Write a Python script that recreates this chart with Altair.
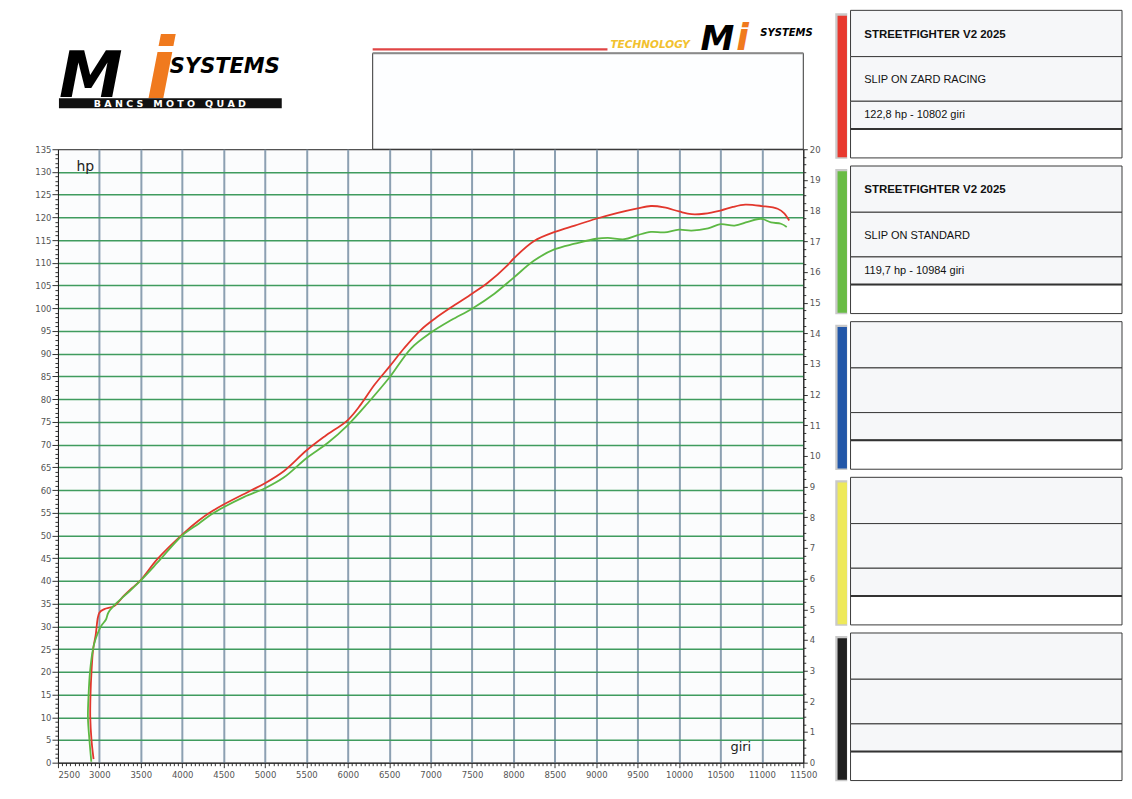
import altair as alt
import pandas as pd

# ---------------- data ----------------
series = ["SLIP ON ZARD RACING", "SLIP ON STANDARD"]
line_colors = ["#e2372d", "#5db844"]

red_rpm = [2930, 2905, 2890, 2893, 2905, 2925, 2955, 3000, 3060, 3180,
           3300, 3400, 3500, 3700, 4000, 4200, 4350, 4500, 4830, 5000,
           5230, 5500, 5720, 6000, 6160, 6320, 6500, 6680, 6880, 7050,
           7290, 7500, 7690, 7930, 8000, 8250, 8500, 8740, 9000, 9260,
           9500, 9660, 9820, 10000, 10150, 10300, 10500, 10650, 10800, 11000,
           11190, 11270, 11330]
red_hp = [0.8, 5, 10, 15, 20, 25, 28, 33, 33.8, 34.5,
          36.8, 38.5, 40.2, 44.8, 50.2, 53.3, 55.2, 56.8, 59.9, 61.5,
          64.2, 68.7, 71.8, 75.4, 78.9, 83.1, 87.1, 91.2, 95.2, 97.7,
          100.7, 103.2, 105.6, 109.5, 110.9, 114.8, 116.8, 118.2, 119.7, 121,
          122, 122.5, 122.2, 121.3, 120.7, 120.8, 121.5, 122.3, 122.8, 122.5,
          121.9, 120.9, 119.3]

green_rpm = [2903, 2880, 2862, 2870, 2887, 2923, 2951, 3019, 3080, 3108,
             3200, 3350, 3494, 3700, 4000, 4200, 4350, 4500, 4750, 5000,
             5230, 5500, 5760, 6000, 6240, 6500, 6765, 7000, 7250, 7500,
             7770, 8000, 8250, 8500, 8740, 9000, 9140, 9340, 9500, 9660,
             9820, 10000, 10150, 10350, 10500, 10670, 10830, 10990, 11110, 11230,
             11300]
green_hp = [0.2, 5, 10, 15, 20, 25, 27, 30, 31.5, 33,
            35, 37.5, 40, 44, 50, 52.6, 54.6, 56.2, 58.5, 60.4,
            62.8, 67, 70.4, 74.3, 79.1, 84.7, 91.2, 94.6, 97.4, 99.9,
            103.2, 106.7, 110.5, 113, 114.2, 115.3, 115.5, 115.2, 116.1, 116.8,
            116.7, 117.3, 117.1, 117.6, 118.5, 118.2, 119, 119.7, 118.9, 118.6,
            117.9]

x_domain = [2500, 11500]
hp_domain = [0, 135]
right_domain = [0, 20]

panel_colors = ["#e8392f", "#69bc45", "#2357a8", "#eee95a", "#1f1f1f"]
panel_titles = ["STREETFIGHTER V2 2025", "STREETFIGHTER V2 2025", "", "", ""]
panel_subtitles = ["SLIP ON ZARD RACING", "SLIP ON STANDARD", "", "", ""]
panel_max = ["122,8 hp - 10802 giri", "119,7 hp - 10984 giri", "", "", ""]

FONT = "DejaVu Sans"
LFONT = "Liberation Sans"
NB = "\u00a0"

# ---------------- main plot ----------------
rows = []
for name, xs, ys in [(series[0], red_rpm, red_hp), (series[1], green_rpm, green_hp)]:
    for i, (x, y) in enumerate(zip(xs, ys)):
        rows.append({"series": name, "rpm": x, "hp": y, "idx": i})
curves = pd.DataFrame(rows)

x_vals = list(range(2500, 11501, 50))
y_vals = list(range(0, 136))
r_vals = [i * 0.25 for i in range(81)]

x_axis = alt.Axis(
    values=x_vals,
    labelExpr="datum.value % 500 === 0 ? format(datum.value, 'd') : ''",
    labelOverlap=False, labelFlush=False,
    labelAlign={"condition": {"test": "datum.value === 2500", "value": "left"}, "value": "center"},
    tickSize={"condition": {"test": "datum.value % 500 === 0", "value": 5}, "value": 3},
    grid=True, gridColor="#8ca0b2", gridWidth=2,
    gridOpacity={"condition": {"test": "datum.value % 500 === 0 && datum.value > 2500 && datum.value < 11500", "value": 1}, "value": 0},
    domainColor="#222", tickColor="#333", labelColor="#555", labelFont=FONT,
    labelFontSize=8.5, labelPadding=3,
    title="giri", titleX=683, titleY=-12, titleAlign="center", titleBaseline="alphabetic",
    titleFont=FONT, titleFontSize=13, titleFontWeight="normal", titleColor="#222",
)
y_axis = alt.Axis(
    values=y_vals, orient="left",
    labelExpr="datum.value % 5 === 0 ? format(datum.value, 'd') : ''",
    labelOverlap=False, labelFlush=False,
    tickSize={"condition": {"test": "datum.value % 5 === 0", "value": 6}, "value": 3},
    grid=True, gridColor="#3f9b5e", gridWidth=1.5,
    gridOpacity={"condition": {"test": "datum.value % 5 === 0 && datum.value > 0 && datum.value < 135", "value": 1}, "value": 0},
    domainColor="#222", tickColor="#333", labelColor="#555", labelFont=FONT,
    labelFontSize=8.5, labelPadding=1,
    title="hp", titleAngle=0, titleX=18, titleY=21, titleAlign="left", titleBaseline="alphabetic",
    titleFont=FONT, titleFontSize=14, titleFontWeight="normal", titleColor="#222",
)
r_axis = alt.Axis(
    values=r_vals, orient="right",
    labelExpr="datum.value % 1 === 0 ? format(datum.value, 'd') : ''",
    labelOverlap=False, labelFlush=False,
    tickSize={"condition": {"test": "datum.value % 1 === 0", "value": 4}, "value": 2.5},
    grid=False, domainColor="#222", tickColor="#333", labelColor="#555", labelFont=FONT,
    labelFontSize=8.5, labelPadding=2, title=None,
)

lines = alt.Chart(curves).mark_line(strokeWidth=1.8, interpolate="catmull-rom").encode(
    x=alt.X("rpm:Q", scale=alt.Scale(domain=x_domain, nice=False, zero=False), axis=x_axis),
    y=alt.Y("hp:Q", scale=alt.Scale(domain=hp_domain, nice=False), axis=y_axis),
    color=alt.Color("series:N", scale=alt.Scale(domain=series, range=line_colors), legend=None),
    order=alt.Order("idx:Q"),
)
right = alt.Chart(pd.DataFrame({"v": right_domain})).mark_point(opacity=0).encode(
    y=alt.Y("v:Q", scale=alt.Scale(domain=right_domain, nice=False), axis=r_axis),
)
main = alt.layer(lines, right).resolve_scale(y="independent").properties(
    width=746, height=614,
    view=alt.ViewBackground(fill="#fbfcfd", stroke="#222", strokeWidth=1),
)

# ---------------- header (logos + empty box) ----------------
one = alt.Data(values=[{"k": 1}])


def txt(t, x, y, size, color="#000", weight="bold", style="italic", align="left", baseline="alphabetic", font=FONT):
    return alt.Chart(one).mark_text(text=t, font=font, fontSize=size, fontWeight=weight,
                                    fontStyle=style, color=color, align=align, baseline=baseline).encode(
        x=alt.value(x), y=alt.value(y))


header_layers = [
    alt.Chart(one).mark_rect(fill="#fdfeff", stroke="#333", strokeWidth=1).encode(
        x=alt.value(315), x2=alt.value(746), y=alt.value(43), y2=alt.value(139)),
    alt.Chart(one).mark_rule(color="#8a8a8a", strokeWidth=2).encode(
        x=alt.value(315), x2=alt.value(746), y=alt.value(43)),
    alt.Chart(one).mark_rule(color="#e04545", strokeWidth=2.2).encode(
        x=alt.value(315), x2=alt.value(550), y=alt.value(39)),
    # left logo
    txt("M", 1, 87, 64),
    txt("i", 88, 88, 84, color="#f07a1e"),
    txt("SYSTEMS", 112, 63, 21),
    alt.Chart(one).mark_rect(fill="#111").encode(
        x=alt.value(1), x2=alt.value(224), y=alt.value(88), y2=alt.value(98)),
    txt(NB.join("BANCS") + NB * 3 + NB.join("MOTO") + NB * 3 + NB.join("QUAD"), 112, 93.5, 9.5,
        color="#fff", style="normal", align="center", baseline="middle"),
    # right logo
    txt("TECHNOLOGY", 553, 38, 10.5, color="#f2c12e"),
    txt("M", 643, 40, 34),
    txt("i", 679, 40, 37, color="#f07a1e"),
    txt("SYSTEMS", 703, 26, 10),
]
header = alt.layer(*header_layers).properties(
    width=746, height=139, view=alt.ViewBackground(stroke="transparent", fill="transparent"))

# ---------------- legend panels ----------------
PITCH = 155.8
edges = [0, 46.3, 91, 118.7, 147.7]
LW = 287
BOX_X0, BOX_X1 = 15.3, LW
rects, texts, thick = [], [], []
for i, col in enumerate(panel_colors):
    top = i * PITCH
    rects.append({"x0": 0, "x1": 12, "y0": top + 3, "y1": top + 148.5, "fill": "#c9c9c9", "stroke": "transparent"})
    rects.append({"x0": 2.3, "x1": 11.7, "y0": top + 5.3, "y1": top + 147, "fill": col, "stroke": "transparent"})
    for j in range(4):
        rects.append({"x0": BOX_X0, "x1": BOX_X1, "y0": top + edges[j], "y1": top + edges[j + 1],
                      "fill": "#f6f7f9" if j < 3 else "#ffffff", "stroke": "#3a3a3a"})
    thick.append({"x0": BOX_X0, "x1": BOX_X1, "y": top + edges[3]})
    texts.append({"x": 29, "y": top + 24.3, "t": panel_titles[i], "w": "bold"})
    texts.append({"x": 29, "y": top + 69.8, "t": panel_subtitles[i], "w": "normal"})
    texts.append({"x": 29, "y": top + 105, "t": panel_max[i], "w": "normal"})

lx = alt.Scale(domain=[0, LW], nice=False, zero=False)
ly = alt.Scale(domain=[0, 772], nice=False, zero=False, reverse=True)

leg_rects = alt.Chart(pd.DataFrame(rects)).mark_rect(strokeWidth=1).encode(
    x=alt.X("x0:Q", scale=lx, axis=None), x2="x1:Q",
    y=alt.Y("y0:Q", scale=ly, axis=None), y2="y1:Q",
    fill=alt.Fill("fill:N", scale=None), stroke=alt.Stroke("stroke:N", scale=None),
)
leg_thick = alt.Chart(pd.DataFrame(thick)).mark_rule(color="#333", strokeWidth=2).encode(
    x=alt.X("x0:Q", scale=lx, axis=None), x2="x1:Q", y=alt.Y("y:Q", scale=ly, axis=None))
tdf = pd.DataFrame(texts)
leg_bold = alt.Chart(tdf[tdf.w == "bold"]).mark_text(
    align="left", baseline="middle", font=LFONT, fontSize=11.5, fontWeight="bold", color="#111").encode(
    x=alt.X("x:Q", scale=lx, axis=None), y=alt.Y("y:Q", scale=ly, axis=None), text="t:N")
leg_norm = alt.Chart(tdf[tdf.w == "normal"]).mark_text(
    align="left", baseline="middle", font=LFONT, fontSize=11, color="#111").encode(
    x=alt.X("x:Q", scale=lx, axis=None), y=alt.Y("y:Q", scale=ly, axis=None), text="t:N")
legend = alt.layer(leg_rects, leg_thick, leg_bold, leg_norm).properties(
    width=LW, height=772, view=alt.ViewBackground(stroke="transparent", fill="transparent"))

left_col = alt.vconcat(header, main, spacing=0, bounds="flush")
chart = alt.hconcat(left_col, legend, spacing=13).properties(
    padding={"left": 26, "top": 1, "right": 0, "bottom": 0},
).configure(background="#ffffff")

chart.save("out.html", embed_options={"renderer": "svg", "actions": False})
